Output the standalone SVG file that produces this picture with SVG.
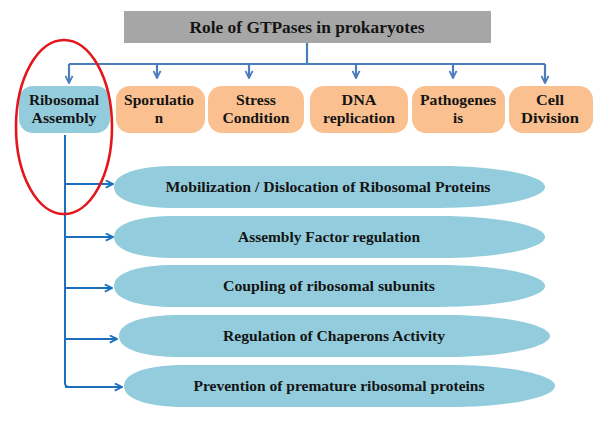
<svg xmlns="http://www.w3.org/2000/svg" xmlns:xlink="http://www.w3.org/1999/xlink" width="598" height="437" viewBox="0 0 598 437">
<style>
  text { font-weight: bold; fill: #141414; text-anchor: middle; }
  .title { font-size: 16.5px; }
  .lbl { font-size: 15px; }
  .olbl { font-size: 14.5px; }
  .blue { fill: #93cddd; }
  .orange { fill: #fac090; }
  .top { stroke: #4a7ebb; stroke-width: 2.2; fill: none; }
  .left { stroke: #1b6fbd; stroke-width: 2; fill: none; }
</style>
<defs>
  <marker id="ahTop" viewBox="0 0 10 10" refX="9" refY="5" markerWidth="9" markerHeight="9" markerUnits="userSpaceOnUse" orient="auto">
    <path d="M1,1 L9,5 L1,9" fill="none" stroke="#4a7ebb" stroke-width="2"/>
  </marker>
  <marker id="ahLeft" viewBox="0 0 10 10" refX="9" refY="5" markerWidth="9" markerHeight="9" markerUnits="userSpaceOnUse" orient="auto">
    <path d="M1,1 L9,5 L1,9" fill="none" stroke="#1b6fbd" stroke-width="2"/>
  </marker>
  <path id="oval" d="M0,0 C0,-14 26,-21 61,-21 L326,-21 C386,-21 431,-11 431,0 C431,11 386,21 326,21 L61,21 C26,21 0,14 0,0 Z"/>
</defs>
<rect width="598" height="437" fill="#ffffff"/>

<g font-family="Liberation Serif, Times New Roman, serif">
<g id="header">
  <rect x="124" y="11" width="367" height="32" fill="#a6a6a6"/>
  <text class="title" x="307" y="33" textLength="235" lengthAdjust="spacingAndGlyphs">Role of GTPases in prokaryotes</text>
</g>

<g id="ribosomal-assembly">
  <rect class="blue" x="19" y="86" width="91" height="47" rx="14"/>
  <text class="lbl" x="64" y="105" textLength="70" lengthAdjust="spacingAndGlyphs">Ribosomal</text>
  <text class="lbl" x="64" y="123" textLength="65" lengthAdjust="spacingAndGlyphs">Assembly</text>
</g>
<g id="sporulation">
  <rect class="orange" x="116" y="86" width="89" height="47" rx="14"/>
  <text class="lbl" x="159" y="105" textLength="70" lengthAdjust="spacingAndGlyphs">Sporulatio</text>
  <text class="lbl" x="159" y="123">n</text>
</g>
<g id="stress-condition">
  <rect class="orange" x="208" y="86" width="96" height="47" rx="14"/>
  <text class="lbl" x="256" y="105" textLength="40" lengthAdjust="spacingAndGlyphs">Stress</text>
  <text class="lbl" x="256" y="123" textLength="67" lengthAdjust="spacingAndGlyphs">Condition</text>
</g>
<g id="dna-replication">
  <rect class="orange" x="310" y="86" width="98" height="47" rx="14"/>
  <text class="lbl" x="359" y="105" textLength="35" lengthAdjust="spacingAndGlyphs">DNA</text>
  <text class="lbl" x="359" y="123" textLength="72" lengthAdjust="spacingAndGlyphs">replication</text>
</g>
<g id="pathogenesis">
  <rect class="orange" x="412" y="86" width="93" height="47" rx="14"/>
  <text class="lbl" x="458" y="105" textLength="76" lengthAdjust="spacingAndGlyphs">Pathogenes</text>
  <text class="lbl" x="458" y="123">is</text>
</g>
<g id="cell-division">
  <rect class="orange" x="509" y="86" width="84" height="47" rx="14"/>
  <text class="lbl" x="550" y="105" textLength="28" lengthAdjust="spacingAndGlyphs">Cell</text>
  <text class="lbl" x="550" y="123" textLength="58" lengthAdjust="spacingAndGlyphs">Division</text>
</g>

<g id="mobilization">
  <use xlink:href="#oval" href="#oval" class="blue" transform="translate(114,187)"/>
  <text class="olbl" x="328" y="192" textLength="325" lengthAdjust="spacingAndGlyphs">Mobilization / Dislocation of Ribosomal Proteins</text>
</g>
<g id="assembly-factor">
  <use xlink:href="#oval" href="#oval" class="blue" transform="translate(114,237)"/>
  <text class="olbl" x="329" y="242" textLength="182" lengthAdjust="spacingAndGlyphs">Assembly Factor regulation</text>
</g>
<g id="coupling">
  <use xlink:href="#oval" href="#oval" class="blue" transform="translate(114,286)"/>
  <text class="olbl" x="329" y="291" textLength="212" lengthAdjust="spacingAndGlyphs">Coupling of ribosomal subunits</text>
</g>
<g id="chaperons">
  <use xlink:href="#oval" href="#oval" class="blue" transform="translate(119,336)"/>
  <text class="olbl" x="334" y="341" textLength="222" lengthAdjust="spacingAndGlyphs">Regulation of Chaperons Activity</text>
</g>
<g id="prevention">
  <use xlink:href="#oval" href="#oval" class="blue" transform="translate(124,386)"/>
  <text class="olbl" x="339" y="391" textLength="291" lengthAdjust="spacingAndGlyphs">Prevention of premature ribosomal proteins</text>
</g>
</g>

<g id="connectors">
  <path class="top" d="M307,43 L307,64 M69,64 L545,64"/>
  <path class="top" d="M69,64 L69,83" marker-end="url(#ahTop)"/>
  <path class="top" d="M157,64 L157,78" marker-end="url(#ahTop)"/>
  <path class="top" d="M249,64 L249,78" marker-end="url(#ahTop)"/>
  <path class="top" d="M356,64 L356,78" marker-end="url(#ahTop)"/>
  <path class="top" d="M453,64 L453,78" marker-end="url(#ahTop)"/>
  <path class="top" d="M545,64 L545,83" marker-end="url(#ahTop)"/>
  <path class="left" d="M65,135 L65,383 Q65,387 69,387"/>
  <path class="left" d="M65,184 L113,184" marker-end="url(#ahLeft)"/>
  <path class="left" d="M65,237 L113,237" marker-end="url(#ahLeft)"/>
  <path class="left" d="M65,288 L112,288" marker-end="url(#ahLeft)"/>
  <path class="left" d="M65,339 L117,339" marker-end="url(#ahLeft)"/>
  <path class="left" d="M65,387 L122,387" marker-end="url(#ahLeft)"/>
</g>

<g id="highlight">
  <ellipse cx="64" cy="127" rx="48" ry="87" fill="none" stroke="#e3161b" stroke-width="2.6"/>
</g>
</svg>
